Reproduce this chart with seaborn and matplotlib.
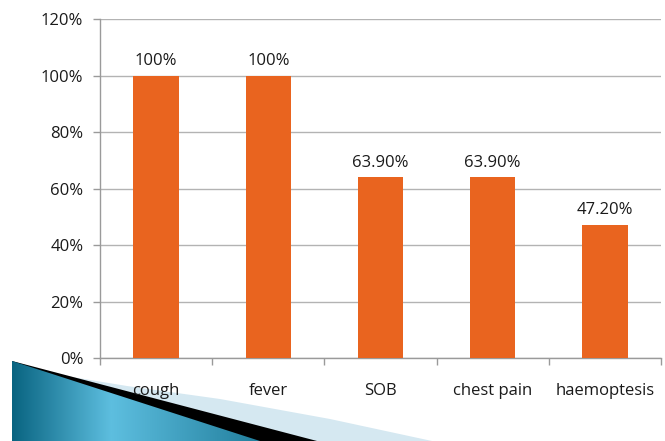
import matplotlib
matplotlib.use("Agg")
import matplotlib.pyplot as plt
import seaborn as sns
import numpy as np
import pandas as pd
from matplotlib.patches import Polygon
from matplotlib.ticker import FixedLocator
from matplotlib.colors import LinearSegmentedColormap

categories = ["cough", "fever", "SOB", "chest pain", "haemoptesis"]
values = [100, 100, 63.9, 63.9, 47.2]
value_labels = ["100%", "100%", "63.90%", "63.90%", "47.20%"]
y_ticks = [0, 20, 40, 60, 80, 100, 120]
y_tick_labels = ["0%", "20%", "40%", "60%", "80%", "100%", "120%"]

sns.set_theme(style="white")
plt.rcParams["font.family"] = ["Open Sans", "DejaVu Sans"]

FS = 12
W, H = 665, 441
fig = plt.figure(figsize=(W / 100, H / 100), dpi=100, facecolor="white")

# decorative shape (drawn beneath the chart axes)
ov = fig.add_axes([0, 0, 1, 1], zorder=0)
ov.axis("off")
light = Polygon([(12, 361), (60, 375), (127, 386), (220, 399), (330, 419),
                 (432, 441), (12, 441)], closed=True,
                facecolor="#d5e8f1", edgecolor="none", zorder=1)
ov.add_patch(light)
black = Polygon([(12, 361), (317, 441), (12, 441)], closed=True,
                facecolor="#000000", edgecolor="none", zorder=2)
ov.add_patch(black)
blue = Polygon([(12, 361), (260, 441), (12, 441)], closed=True,
               facecolor="none", edgecolor="none", zorder=3)
ov.add_patch(blue)
xs = np.linspace(0, 1, 400)
grad = np.interp(xs, [0, 0.4, 1], [0.0, 1.0, 0.3])
cmap = LinearSegmentedColormap.from_list("b", ["#096481", "#5dbedf"])
im = ov.imshow(grad[np.newaxis, :], cmap=cmap, aspect="auto",
               extent=(12, 260, 441, 361), interpolation="bilinear", zorder=4)
im.set_clip_path(blue)
ov.set_xlim(0, W)
ov.set_ylim(H, 0)

ax = fig.add_axes([100 / W, 1 - 358 / H, 561 / W, (358 - 19) / H], zorder=1)
ax.patch.set_alpha(0)

df = pd.DataFrame({"cat": categories, "val": values})
sns.barplot(data=df, x="cat", y="val", ax=ax, color="#E9641F", saturation=1,
            width=0.405, linewidth=0, zorder=3)

ax.set_xlim(-0.5, len(categories) - 0.5)
ax.set_ylim(0, 120)
ax.set_yticks(y_ticks)
ax.set_yticklabels(y_tick_labels)
ax.set_xlabel("")
ax.set_ylabel("")
ax.yaxis.grid(True, color="#b3b3b3", linewidth=1.0, zorder=0)
ax.xaxis.grid(False)

for s in ["top", "right"]:
    ax.spines[s].set_visible(False)
for s in ["left", "bottom"]:
    ax.spines[s].set_visible(True)
    ax.spines[s].set_color("#9a9a9a")
    ax.spines[s].set_linewidth(1.0)

ax.tick_params(axis="y", which="major", left=True, length=5, width=1,
               color="#9a9a9a", pad=7, labelsize=FS, labelcolor="#1a1a1a")
ax.tick_params(axis="x", which="major", bottom=False, length=0, pad=18,
               labelsize=FS, labelcolor="#1a1a1a")
ax.xaxis.set_minor_locator(FixedLocator(np.arange(-0.5, len(categories), 1.0)))
ax.tick_params(axis="x", which="minor", bottom=True, length=5, width=1,
               color="#9a9a9a")

for i, (v, lab) in enumerate(zip(values, value_labels)):
    ax.annotate(lab, (i, v), xytext=(0, 5), textcoords="offset points",
                ha="center", va="bottom", fontsize=FS, color="#1a1a1a")

fig.savefig("out.png", dpi=100, facecolor="white")
